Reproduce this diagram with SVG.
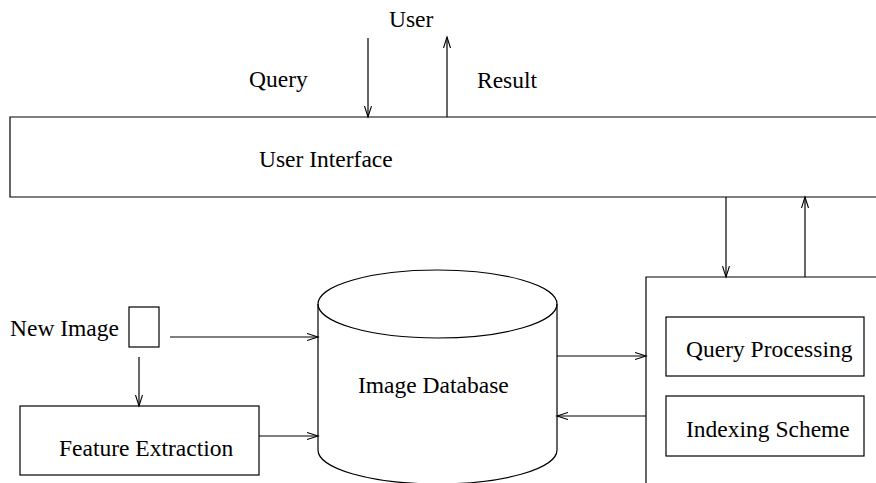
<svg xmlns="http://www.w3.org/2000/svg" width="876" height="483" viewBox="0 0 876 483">
<style>
.s{fill:none;stroke:#000;stroke-width:1.2}
.t{font-family:"Liberation Serif","Times New Roman",serif;font-size:23.5px;fill:#000}
</style>
<defs>
<marker id="a" markerUnits="userSpaceOnUse" markerWidth="14" markerHeight="10" refX="11" refY="4" orient="auto">
<path d="M0,0.5 L11,4 L0,7.5" fill="none" stroke="#000" stroke-width="1.1"/>
</marker>
</defs>
<rect width="876" height="483" fill="#fff"/>
<text class="t" x="389" y="27">User</text>
<text class="t" x="249" y="87">Query</text>
<text class="t" x="477" y="88">Result</text>
<g id="ui">
<path class="s" d="M880,117 L10,117 L10,197 L880,197"/>
<text class="t" x="259" y="167">User Interface</text>
</g>
<g id="newimage">
<text class="t" x="10" y="336">New Image</text>
<rect class="s" x="129" y="307" width="30" height="40"/>
</g>
<g id="fe">
<rect class="s" x="20" y="406" width="239" height="69"/>
<text class="t" x="59" y="456">Feature Extraction</text>
</g>
<g id="db">
<path class="s" d="M318,304 L318,450 A119.5,34 0 0 0 557,450 L557,304"/>
<ellipse class="s" cx="437.5" cy="304" rx="119.5" ry="34"/>
<text class="t" x="358" y="393">Image Database</text>
</g>
<g id="engine">
<path class="s" d="M646,490 L646,277 L880,277"/>
</g>
<g id="qp">
<rect class="s" x="666" y="317" width="198" height="59"/>
<text class="t" x="686" y="357">Query Processing</text>
</g>
<g id="is">
<rect class="s" x="666" y="396" width="198" height="60"/>
<text class="t" x="686" y="437">Indexing Scheme</text>
</g>
<g id="connectors" class="s" marker-end="url(#a)">
<line x1="368" y1="38" x2="368" y2="117" marker-end="url(#a)"/>
<line x1="447" y1="117" x2="447" y2="37" marker-end="url(#a)"/>
<line x1="726" y1="197" x2="726" y2="277" marker-end="url(#a)"/>
<line x1="805" y1="277" x2="805" y2="197" marker-end="url(#a)"/>
<line x1="170" y1="337" x2="318" y2="337" marker-end="url(#a)"/>
<line x1="139" y1="357" x2="139" y2="406" marker-end="url(#a)"/>
<line x1="259" y1="436" x2="318" y2="436" marker-end="url(#a)"/>
<line x1="557" y1="356" x2="646" y2="356" marker-end="url(#a)"/>
<line x1="646" y1="416" x2="557" y2="416" marker-end="url(#a)"/>
</g>
</svg>
